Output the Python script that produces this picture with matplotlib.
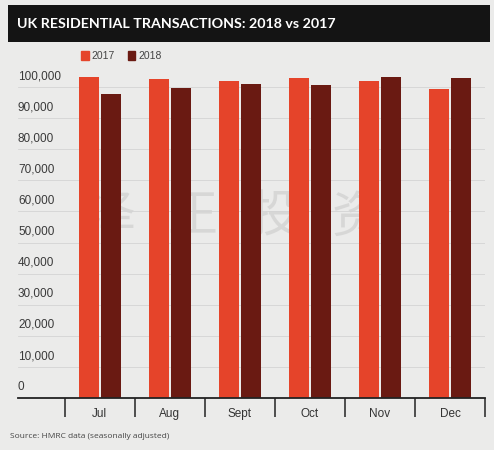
# UK residential transactions, 2018 vs 2017

import matplotlib.pyplot as plt
from matplotlib.patches import Rectangle, Patch

months = ['Jul', 'Aug', 'Sept', 'Oct', 'Nov', 'Dec']
tx_2017 = [103300, 102600, 102000, 102800, 101900, 99300]
tx_2018 = [97900, 99800, 101000, 100600, 103100, 102800]
yticks = list(range(0, 100001, 10000))
watermark = ['泽', '正', '投', '资']

c17 = '#e5442a'
c18 = '#6a1a12'
bg = '#ebebea'

plt.rcParams['font.family'] = ['Liberation Sans', 'DejaVu Sans']

fig = plt.figure(figsize=(4.94, 4.5), dpi=100)
fig.patch.set_facecolor(bg)

# title band
fig.patches.append(Rectangle((8 / 494, 1 - 42 / 450), 482 / 494, 37 / 450,
                             transform=fig.transFigure, facecolor='#141414',
                             edgecolor='none'))
fig.text(17 / 494, 1 - 24 / 450, 'UK RESIDENTIAL TRANSACTIONS: 2018 vs 2017',
         color='white', fontsize=10.3, fontweight='bold', family='Lato',
         va='center', ha='left')

ax = fig.add_axes([18 / 494, 1 - 398 / 450, 467 / 494, 328 / 450])
ax.set_facecolor(bg)

# faint watermark
for i, ch in enumerate(watermark):
    ax.text(0.15 + i * 1.17, 58000, ch, fontsize=36, color='#c4c4c4',
            alpha=0.5, family='Noto Sans CJK SC', fontweight='light',
            ha='center', va='center', zorder=0)

x = range(len(months))
w = 0.285
ax.bar([i - w / 2 - 0.02 for i in x], tx_2017, w, color=c17, zorder=2,
       label='2017')
ax.bar([i + w / 2 + 0.02 for i in x], tx_2018, w, color=c18, zorder=2,
       label='2018')

ax.set_xlim(-1.17, 5.5)
ax.set_ylim(0, 105500)

# gridlines + labels sitting just above them
for v in yticks:
    if v > 0:
        ax.axhline(v, color='#d4d4d4', lw=0.6, zorder=1)
    ax.annotate(f'{v:,}', (0, v), xycoords=('axes fraction', 'data'),
                xytext=(0, 3.5), textcoords='offset points', fontsize=8.5,
                color='#3a3a3a', ha='left', va='bottom')
ax.set_yticks([])

ax.set_xticks(list(x))
ax.set_xticklabels(months, fontsize=8.5, color='#333333')
ax.set_xticks([i - 0.5 for i in range(len(months) + 1)], minor=True)
ax.tick_params(axis='x', which='major', length=0, pad=7)
ax.tick_params(axis='x', which='minor', length=14, width=1.2,
               color='#333333', direction='out')

for s in ['top', 'right', 'left']:
    ax.spines[s].set_visible(False)
ax.spines['bottom'].set_color('#222222')
ax.spines['bottom'].set_linewidth(1.3)

fig.legend(handles=[Patch(color=c17, label='2017'),
                    Patch(color=c18, label='2018')],
           loc='center left', bbox_to_anchor=(72 / 494, 1 - 56 / 450),
           ncol=2, frameon=False, fontsize=7.5, handlelength=0.7,
           handleheight=0.9, handletextpad=0.3, columnspacing=1.2,
           labelcolor='#444444')

fig.text(10 / 494, 1 - 437 / 450, 'Source: HMRC data (seasonally adjusted)',
         fontsize=6, color='#444444', family='Open Sans', va='center')

fig.savefig('out.png', dpi=100, facecolor=bg)
